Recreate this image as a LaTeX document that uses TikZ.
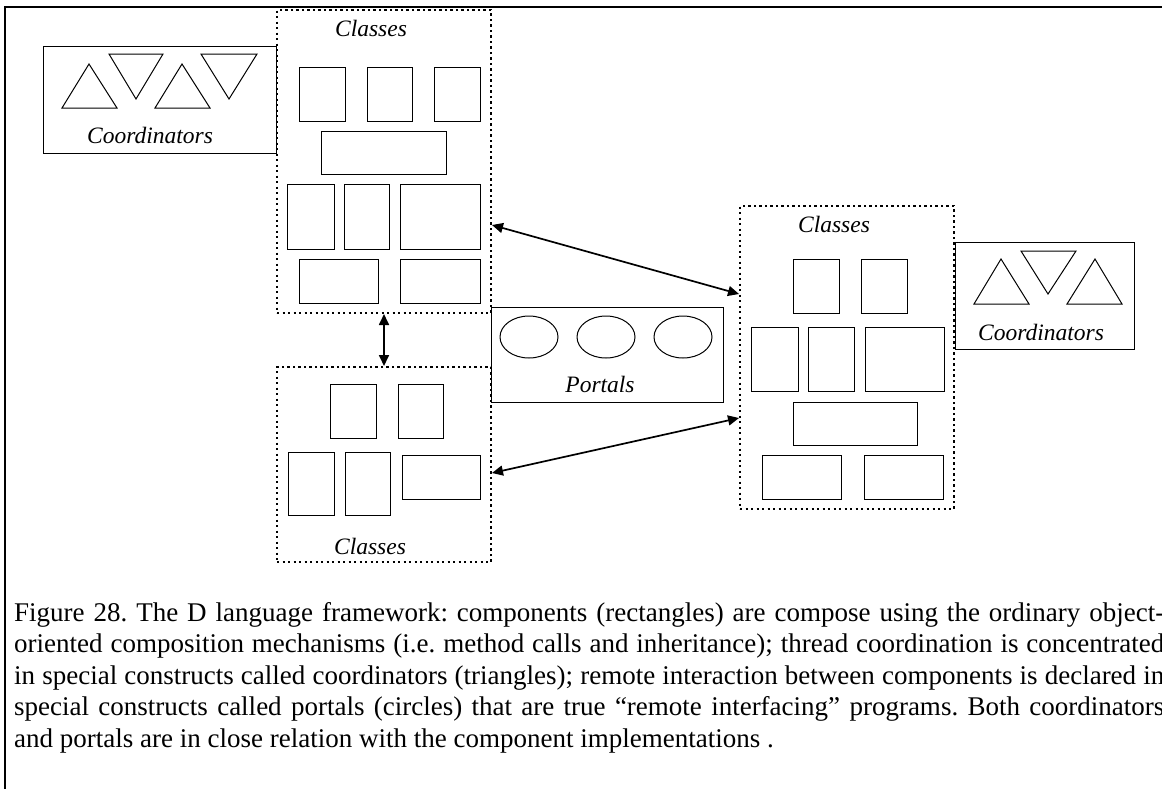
\documentclass[tikz,border=0pt]{standalone}
\usepackage{fontspec}
\setmainfont{Liberation Serif}
\usetikzlibrary{arrows.meta,fit,shapes.geometric}
\frenchspacing
\begin{document}
\begin{tikzpicture}[x=1pt,y=-1pt,
  cbox/.style={draw, line width=1pt, inner sep=0pt},
  container/.style={draw, line width=2pt, dash pattern=on 2.2pt off 3.3pt, inner sep=0pt},
  lbl/.style={font=\fontsize{23.5}{27}\selectfont\itshape, inner sep=0pt},
  portal/.style={draw, ellipse, line width=1pt, minimum width=58pt, minimum height=42pt, inner sep=0pt},
  tri/.style={draw, line width=1pt, line join=miter},
  arr/.style={{Triangle[length=11pt,width=10pt]}-{Triangle[length=11pt,width=10pt]}, line width=1.7pt}
]
\path[use as bounding box, clip] (0,0) rectangle (1162,788);
% outer frame
\draw[line width=2pt] (4.5,800) -- (4.5,6.5) -- (1175,6.5);

% ---- top-left coordinators
\node[cbox, fit={(43,46)(276,153)}] (coordA) {};
\draw[tri] (62,108) -- (89,64) -- (117,108) -- cycle;
\draw[tri] (109,54) -- (163,54) -- (136,99) -- cycle;
\draw[tri] (155,108) -- (182,64) -- (210,108) -- cycle;
\draw[tri] (201,54) -- (257,54) -- (229,99) -- cycle;
\node[lbl] (coordAlbl) at (150,135) {Coordinators};

% ---- top classes container
\node[container, fit={(277,10)(491,313)}] (topC) {};
\node[lbl] (topClbl) at (371,28) {Classes};
\node[cbox, fit={(299,67)(345,121)}] (t1) {};
\node[cbox, fit={(367,67)(412,121)}] (t2) {};
\node[cbox, fit={(434,67)(480,121)}] (t3) {};
\node[cbox, fit={(321,131)(446,174)}] (t4) {};
\node[cbox, fit={(287,184)(334,249)}] (t5) {};
\node[cbox, fit={(344,184)(389,249)}] (t6) {};
\node[cbox, fit={(400,184)(480,249)}] (t7) {};
\node[cbox, fit={(299,259)(378,303)}] (t8) {};
\node[cbox, fit={(400,259)(480,303)}] (t9) {};

% ---- bottom classes container
\node[container, fit={(277,367)(491,562)}] (botC) {};
\node[lbl] (botClbl) at (370,546) {Classes};
\node[cbox, fit={(330,384)(376,438)}] (b1) {};
\node[cbox, fit={(398,384)(443,438)}] (b2) {};
\node[cbox, fit={(288,452)(334,515)}] (b3) {};
\node[cbox, fit={(345,452)(390,515)}] (b4) {};
\node[cbox, fit={(402,455)(480,499)}] (b5) {};

% ---- portals
\node[cbox, fit={(491,307)(723,402)}] (portals) {};
\node[portal] (p1) at (529,337) {};
\node[portal] (p2) at (606,337) {};
\node[portal] (p3) at (683,337) {};
\node[lbl] (portalslbl) at (600,384) {Portals};

% ---- right classes container
\node[container, fit={(740,206)(954,509)}] (rightC) {};
\node[lbl] (rightClbl) at (834,224) {Classes};
\node[cbox, fit={(793,259)(839,313)}] (r1) {};
\node[cbox, fit={(861,259)(907,313)}] (r2) {};
\node[cbox, fit={(751,327)(798,391)}] (r3) {};
\node[cbox, fit={(808,327)(854,391)}] (r4) {};
\node[cbox, fit={(865,327)(944,391)}] (r5) {};
\node[cbox, fit={(793,402)(917,445)}] (r6) {};
\node[cbox, fit={(762,455)(841,499)}] (r7) {};
\node[cbox, fit={(864,455)(943,499)}] (r8) {};

% ---- right coordinators
\node[cbox, fit={(955,242)(1134,349)}] (coordB) {};
\draw[tri] (974,304) -- (1001,259) -- (1029,304) -- cycle;
\draw[tri] (1021,251) -- (1076,251) -- (1048,294) -- cycle;
\draw[tri] (1067,304) -- (1095,259) -- (1122,304) -- cycle;
\node[lbl] (coordBlbl) at (1041,332) {Coordinators};

% ---- connectors
\draw[arr] (topC.south) -- (botC.north);
\draw[arr] ([yshift=-63.5pt]topC.east) -- ([yshift=63.5pt]rightC.west);
\draw[arr] ([yshift=-8.5pt]botC.east) -- ([yshift=-60.5pt]rightC.west);

% ---- caption
\node[anchor=base west, text width=1150pt, align=justify, inner sep=0pt,
      font=\fontsize{27}{31.5}\selectfont] (cap) at (14,621)
{Figure 28. The D language framework: components (rectangles) are compose using the ordinary object-\linebreak
oriented composition mechanisms (i.e. method calls and inheritance); thread coordination is concentrated\linebreak
in special constructs called coordinators (triangles); remote interaction between components is declared in\linebreak
special constructs called portals (circles) that are true “remote interfacing” programs. Both coordinators\linebreak
and portals are in close relation with the component implementations .};
\end{tikzpicture}
\end{document}
